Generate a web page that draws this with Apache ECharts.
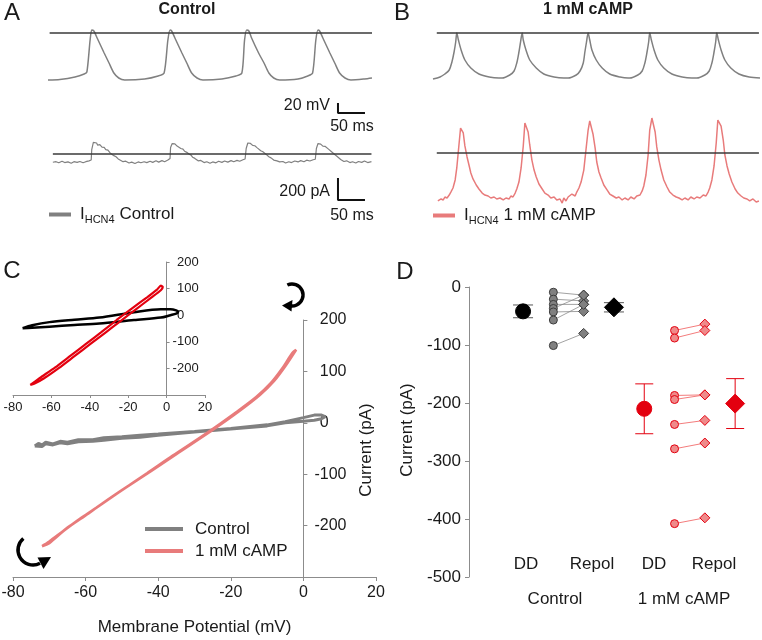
<!DOCTYPE html>
<html><head><meta charset="utf-8">
<script src="https://cdn.jsdelivr.net/npm/echarts@6/dist/echarts.min.js"></script>
<style>html,body{margin:0;padding:0;background:#fff}#c{width:762px;height:640px}</style>
</head><body><div id="c"></div>
<script>
// ---------- DATA ----------
// Panel A: control action potential [ms, mV]
const apCtrl = [[0,-94],[22,-93],[50,-88],[67,-82],[72,-78],[78,-14],[81,6],[85,4],[91,-10],[104,-40],[113,-60],[122,-80],[131,-90],[142,-94],[179,-92],[204,-86],[215,-80],[222,-14],[226,6],[229,4],[235,-10],[248,-40],[257,-60],[266,-80],[276,-90],[287,-94],[322,-92],[348,-86],[359,-80],[364,-14],[368,6],[372,4],[377,-10],[390,-40],[400,-60],[409,-80],[418,-90],[429,-94],[463,-92],[481,-86],[490,-80],[496,-14],[500,6],[503,4],[509,-10],[522,-40],[531,-60],[540,-80],[550,-90],[561,-94],[586,-92],[600,-90]];
// Panel A: control I_HCN4 [ms, pA]
const iCtrl = [[9,-75],[15,-70],[20,-80],[26,-66],[31,-78],[37,-72],[43,-84],[48,-70],[54,-76],[59,-68],[65,-80],[70,-70],[76,-62],[80,-55],[81,40],[84,105],[87,95],[90,100],[92,80],[96,85],[100,62],[104,60],[107,40],[111,35],[115,10],[118,5],[122,-15],[126,-25],[130,-45],[133,-50],[139,-70],[144,-65],[150,-82],[155,-74],[161,-86],[167,-72],[172,-80],[178,-70],[183,-78],[189,-66],[194,-76],[200,-62],[205,-74],[211,-60],[216,-70],[222,-55],[226,-40],[227,60],[230,95],[233,85],[235,92],[239,72],[242,70],[246,50],[250,45],[253,25],[257,15],[261,0],[265,-10],[268,-30],[272,-40],[278,-62],[283,-58],[289,-78],[294,-70],[300,-84],[305,-72],[311,-80],[316,-66],[322,-76],[327,-64],[333,-74],[339,-60],[344,-70],[350,-58],[355,-66],[361,-52],[365,-45],[367,50],[370,100],[373,88],[375,96],[379,78],[383,75],[387,58],[390,48],[394,30],[398,20],[401,2],[405,-8],[409,-25],[413,-35],[418,-55],[424,-62],[429,-72],[435,-68],[440,-82],[446,-70],[451,-78],[457,-64],[463,-72],[468,-60],[474,-70],[479,-56],[485,-64],[491,-52],[495,-48],[497,50],[500,95],[502,84],[505,90],[509,72],[513,70],[516,52],[520,42],[524,25],[527,15],[531,-5],[535,-20],[538,-38],[542,-50],[548,-68],[553,-62],[559,-78],[564,-70],[570,-82],[575,-68],[581,-76],[586,-64],[592,-78],[599,-70]];
// Panel B: action potential with 1 mM cAMP [ms, mV]
const apCamp = [[0,-92],[13,-88],[22,-82],[30,-74],[35,-58],[39,-38],[42,-18],[44,0],[47,-14],[52,-34],[59,-54],[70,-70],[85,-82],[104,-88],[122,-90],[128,-90],[142,-84],[150,-76],[155,-60],[159,-38],[162,-18],[165,0],[167,-14],[172,-34],[179,-54],[191,-70],[205,-82],[224,-88],[242,-90],[250,-90],[265,-84],[272,-76],[278,-60],[281,-38],[284,-18],[287,0],[290,-14],[294,-34],[302,-54],[313,-70],[327,-82],[346,-88],[361,-90],[364,-90],[379,-84],[387,-76],[392,-60],[396,-38],[399,-18],[401,0],[404,-14],[409,-34],[416,-54],[427,-70],[442,-82],[461,-88],[479,-90],[488,-90],[503,-84],[511,-76],[516,-60],[520,-38],[523,-18],[525,0],[528,-14],[533,-34],[540,-54],[551,-70],[566,-82],[585,-88],[605,-90]];
// Panel B: I_HCN4 with 1 mM cAMP [ms, pA]
const iCamp = [[9,-436],[15,-418],[19,-427],[22,-400],[26,-409],[30,-382],[33,-355],[37,-318],[41,-245],[44,-136],[48,73],[51,227],[54,236],[56,182],[59,64],[63,-36],[67,-118],[70,-182],[74,-236],[80,-291],[85,-327],[91,-364],[96,-382],[102,-391],[107,-409],[113,-400],[118,-418],[124,-409],[130,-427],[135,-409],[141,-418],[144,-391],[148,-400],[152,-364],[155,-327],[159,-264],[163,-136],[167,64],[170,273],[173,282],[176,191],[179,73],[183,-64],[187,-155],[191,-218],[196,-282],[202,-327],[207,-364],[213,-382],[218,-409],[224,-400],[229,-427],[235,-418],[239,-455],[242,-409],[246,-436],[250,-400],[253,-418],[257,-373],[263,-391],[266,-355],[270,-318],[274,-264],[279,-155],[283,27],[287,209],[290,291],[293,282],[296,173],[300,45],[303,-82],[307,-173],[311,-227],[316,-291],[322,-336],[327,-373],[333,-391],[339,-409],[344,-400],[350,-427],[355,-409],[361,-427],[366,-400],[372,-418],[377,-391],[383,-382],[387,-345],[390,-300],[394,-200],[398,-18],[401,209],[405,318],[408,300],[411,191],[414,55],[418,-64],[422,-155],[427,-245],[433,-309],[438,-355],[444,-382],[450,-400],[455,-409],[461,-427],[466,-409],[472,-427],[477,-400],[483,-418],[488,-400],[494,-409],[500,-382],[505,-391],[509,-355],[512,-318],[516,-245],[520,-118],[524,91],[527,300],[530,318],[533,245],[537,118],[540,-18],[544,-118],[548,-191],[553,-264],[559,-327],[564,-364],[570,-391],[575,-409],[581,-418],[586,-436],[592,-418],[598,-445],[603,-436]];
// Panel C inset: I-V loops [mV, pA]
const insetCtrl = [[-75,-49],[-70,-38],[-61,-26],[-48,-17],[-35,-9],[-17,11],[-3,22],[2,22],[5,18],[6,13],[5,6],[2,0],[-3,-9],[-17,-18],[-35,-31],[-48,-37],[-61,-43],[-70,-47],[-75,-49]];
const insetCamp = [[-71,-262],[-66,-236],[-58,-196],[-50,-152],[-42,-108],[-34,-64],[-26,-18],[-18,26],[-10,68],[-5,96],[-3,111],[-2,106],[-3,94],[-8,66],[-16,22],[-24,-22],[-32,-66],[-40,-110],[-48,-154],[-56,-198],[-64,-238],[-69,-258],[-71,-262]];
// Panel C main: I-V loops [mV, pA]
const ivCtrl = [[-74,-45],[-73,-40],[-72,-43],[-71,-38],[-69,-41],[-67,-36],[-65,-38],[-62,-33],[-58,-33],[-55,-29],[-50,-27],[-45,-24],[-40,-22],[-30,-17],[-20,-11],[-10,-4],[-5,2],[0,10],[3,15],[5,15],[6,12],[5,8],[3,5],[0,3],[-5,0],[-10,-6],[-20,-12],[-30,-18],[-40,-24],[-45,-28],[-50,-30],[-55,-34],[-58,-36],[-62,-37],[-65,-41],[-67,-39],[-69,-43],[-71,-41],[-72,-46],[-74,-45]];
const ivCamp = [[-72,-240],[-70,-231],[-67,-215],[-65,-204],[-60,-180],[-56,-160],[-50,-131],[-42,-94],[-35,-61],[-25,-14],[-18,21],[-12,54],[-8,82],[-5,110],[-2,142],[-3,136],[-6,104],[-9,77],[-13,50],[-19,18],[-26,-17],[-36,-64],[-43,-98],[-51,-136],[-57,-165],[-61,-184],[-66,-210],[-70,-234],[-72,-240]];
// Panel D: paired cells [pA]
const dGroups = ['Control', '1 mM cAMP'];
const dPhases = ['DD', 'Repol'];
const ctrlDD    = [-9, -21, -30, -37, -43, -57, -101];
const ctrlRepol = [-14, -24, -30, -14, -42, -30, -80];
const campDD    = [-75, -88, -187, -194, -237, -279, -408];
const campRepol = [-64, -75, -186, -186, -230, -269, -398];
const ctrlMean = [-42, -35], ctrlErr = [11, 8];
const campMean = [-210, -201], campErr = [43, 43];
// tick labels
const ivTicksX = [-80, -60, -40, -20, 0, 20];
const ivTicksY = [-300, -200, -100, 0, 100, 200];
const dTicksY = [-500, -400, -300, -200, -100, 0];

// ---------- CHART ----------
const FONT = '"Liberation Sans", Arial, sans-serif';
const TXT = '#1a1a1a', AX = '#8c8c8c';
const GRAY = '#808080', PINK = '#e87b7b', RED = '#e3000f';
const chart = echarts.init(document.getElementById('c'), null, {renderer: 'canvas'});

const cats = [];
dGroups.forEach((g) => { cats.push(g + ' DD mean', g + ' DD', g + ' Repol', g + ' Repol mean'); });

const grids = [
  {left: 48, top: 18, width: 324, height: 100},   // 0 A voltage
  {left: 48, top: 132, width: 324, height: 77},   // 1 A current
  {left: 433, top: 18, width: 327, height: 100},  // 2 B voltage
  {left: 433, top: 109, width: 327, height: 99},  // 3 B current
  {left: 13, top: 262, width: 192, height: 133},  // 4 C inset
  {left: 13, top: 320, width: 363, height: 257},  // 5 C main
  {left: 469, top: 287, width: 1, height: 290},   // 6 D axis
  {left: 507.9, top: 287, width: 242.4, height: 290} // 7 D data
].map(g => Object.assign({containLabel: false, outerBoundsMode: 'none'}, g));

function hiddenAxis(gi, min, max) { return {gridIndex: gi, type: 'value', min, max, show: false}; }
const negAlign = v => (v < 0 ? String(v) : '{h|-}' + v);
const xmin = ivTicksX[0], xmax = ivTicksX[ivTicksX.length - 1];
// place the current axis at 0 mV (measured from the grid's right edge)
const zeroOffset = gi => -grids[gi].width * (xmax - 0) / (xmax - xmin);

const xAxes = [
  hiddenAxis(0, 0, 600), hiddenAxis(1, 0, 600), hiddenAxis(2, 0, 605), hiddenAxis(3, 0, 605),
  {gridIndex: 4, type: 'value', min: xmin, max: xmax, interval: 20,
   axisLine: {onZero: false, lineStyle: {color: AX}}, axisTick: {length: 3, lineStyle: {color: AX}},
   axisLabel: {fontSize: 13, color: TXT, margin: 6, fontFamily: FONT}, splitLine: {show: false}},
  {gridIndex: 5, type: 'value', min: xmin, max: xmax, interval: 20,
   axisLine: {onZero: false, lineStyle: {color: AX}}, axisTick: {length: 4, lineStyle: {color: AX}},
   axisLabel: {fontSize: 16, color: TXT, margin: 8, fontFamily: FONT}, splitLine: {show: false},
   name: 'Membrane Potential (mV)', nameLocation: 'middle', nameGap: 42,
   nameTextStyle: {fontSize: 17, color: TXT, fontFamily: FONT}},
  hiddenAxis(6, 0, 1),
  {gridIndex: 7, type: 'category', data: cats, show: false}
];
const yAxes = [
  hiddenAxis(0, -170, 30), hiddenAxis(1, -500, 200), hiddenAxis(2, -170, 30), hiddenAxis(3, -500, 400),
  {gridIndex: 4, type: 'value', position: 'right', offset: zeroOffset(4), min: ivTicksY[0], max: ivTicksY[ivTicksY.length-1], interval: 100,
   axisLine: {show: true, onZero: false, lineStyle: {color: AX}}, axisTick: {show: true, length: 3, lineStyle: {color: AX}},
   axisLabel: {margin: 6, fontSize: 13, color: TXT, fontFamily: FONT,
     formatter: v => (v === ivTicksY[0] ? '' : negAlign(v)), rich: {h: {color: 'rgba(0,0,0,0)', fontSize: 13, fontFamily: FONT}}},
   splitLine: {show: false}},
  {gridIndex: 5, type: 'value', position: 'right', offset: zeroOffset(5), min: ivTicksY[0], max: ivTicksY[ivTicksY.length-1], interval: 100,
   axisLine: {show: true, onZero: false, lineStyle: {color: AX}}, axisTick: {show: true, length: 4, lineStyle: {color: AX}},
   axisLabel: {margin: 11, fontSize: 16, color: TXT, fontFamily: FONT,
     formatter: v => (v === ivTicksY[0] ? '' : negAlign(v)), rich: {h: {color: 'rgba(0,0,0,0)', fontSize: 16, fontFamily: FONT}}},
   splitLine: {show: false}},
  {gridIndex: 6, type: 'value', min: dTicksY[0], max: dTicksY[dTicksY.length-1], interval: 100,
   axisLine: {show: true, lineStyle: {color: AX}}, axisTick: {show: true, length: 4, lineStyle: {color: AX}},
   axisLabel: {fontSize: 17, color: TXT, margin: 8, fontFamily: FONT}, splitLine: {show: false}},
  hiddenAxis(7, dTicksY[0], dTicksY[dTicksY.length-1])
];

const zeroLine = (data) => ({symbol: 'none', silent: true, label: {show: false},
  lineStyle: {color: '#3a3a3a', width: 1.5, type: 'solid'}, emphasis: {disabled: true},
  data: [[{coord: [data[0][0], 0]}, {coord: [data[data.length-1][0], 0]}]]});

const scaleA_V = {t: 537, v: -140, dt: 50, dv: 20};
const scaleA_I = {t: 537, v: -218, dt: 50, dv: 200};
const scaleBar = (gi, s) => ({type: 'line', xAxisIndex: gi, yAxisIndex: gi, symbol: 'none', silent: true,
  lineStyle: {color: '#111', width: 2}, data: [[s.t, s.v], [s.t, s.v - s.dv], [s.t + s.dt, s.v - s.dv]]});

const trace = (name, gi, data, color, width, smooth) => ({type: 'line', name, xAxisIndex: gi, yAxisIndex: gi,
  data, symbol: 'none', showSymbol: false, smooth: smooth || false, color, lineStyle: {color, width}, z: 3});

const series = [
  Object.assign(trace('AP control', 0, apCtrl, GRAY, 1.5, 0.25), {markLine: zeroLine([[3,0],[600,0]])}),
  scaleBar(0, scaleA_V),
  Object.assign(trace('I_HCN4 Control', 1, iCtrl, GRAY, 1.2, false), {markLine: zeroLine(iCtrl)}),
  scaleBar(1, scaleA_I),
  Object.assign(trace('AP cAMP', 2, apCamp, GRAY, 1.5, 0.3), {markLine: zeroLine([[7,0],[603,0]])}),
  Object.assign(trace('I_HCN4 1 mM cAMP', 3, iCamp, PINK, 1.5, false), {markLine: zeroLine([[7,0],[603,0]])}),
  trace('inset control', 4, insetCtrl, '#000', 2.5, 0.3),
  trace('inset cAMP', 4, insetCamp, RED, 2.2, 0.2),
  trace('Control', 5, ivCtrl, GRAY, 3, false),
  trace('1 mM cAMP', 5, ivCamp, PINK, 2.6, 0.3)
];

// Panel D
function pairLines(dd, rep, g, color) {
  return dd.map((v, i) => ({type: 'line', xAxisIndex: 7, yAxisIndex: 7, symbol: 'none', silent: true,
    lineStyle: {color, width: 0.8}, z: 2, data: [[g + ' DD', v], [g + ' Repol', rep[i]]]}));
}
function points(vals, cat, symbol, size, fill, border) {
  return {type: 'scatter', xAxisIndex: 7, yAxisIndex: 7, symbol, symbolSize: size, silent: true, z: 4,
    itemStyle: {color: fill, borderColor: border, borderWidth: 1, opacity: 1}, data: vals.map(v => [cat, v])};
}
function errBars(g, means, errs, color, half) {
  return {type: 'custom', xAxisIndex: 7, yAxisIndex: 7, silent: true, z: 3,
    data: dPhases.map((p, i) => [g + ' ' + p + ' mean', means[i] - errs[i], means[i] + errs[i]]),
    encode: {x: 0, y: [1, 2]},
    renderItem: (params, api) => {
      const x = api.value(0);
      const lo = api.coord([x, api.value(1)]), hi = api.coord([x, api.value(2)]);
      const st = {stroke: color, lineWidth: 1};
      return {type: 'group', children: [
        {type: 'line', shape: {x1: lo[0], y1: lo[1], x2: hi[0], y2: hi[1]}, style: st},
        {type: 'line', shape: {x1: lo[0] - half, y1: lo[1], x2: lo[0] + half, y2: lo[1]}, style: st},
        {type: 'line', shape: {x1: hi[0] - half, y1: hi[1], x2: hi[0] + half, y2: hi[1]}, style: st}
      ]};
    }};
}
series.push(...pairLines(ctrlDD, ctrlRepol, dGroups[0], '#8a8a8a'));
series.push(...pairLines(campDD, campRepol, dGroups[1], '#f05a5a'));
series.push(points(ctrlDD, dGroups[0] + ' DD', 'circle', 8, GRAY, '#3c3c3c'));
series.push(points(ctrlRepol, dGroups[0] + ' Repol', 'diamond', 10, GRAY, '#3c3c3c'));
series.push(points(campDD, dGroups[1] + ' DD', 'circle', 8, '#ef8a8a', RED));
series.push(points(campRepol, dGroups[1] + ' Repol', 'diamond', 10, '#ef8a8a', RED));
series.push(errBars(dGroups[0], ctrlMean, ctrlErr, '#555', 10));
series.push(errBars(dGroups[1], campMean, campErr, RED, 9));
series.push(points([ctrlMean[0]], dGroups[0] + ' DD mean', 'circle', 15, '#000', '#000'));
series.push(points([ctrlMean[1]], dGroups[0] + ' Repol mean', 'diamond', 19, '#000', '#000'));
series.push(points([campMean[0]], dGroups[1] + ' DD mean', 'circle', 15, RED, RED));
series.push(points([campMean[1]], dGroups[1] + ' Repol mean', 'diamond', 19, RED, RED));

// legends
const subRich = {
  m: {fontSize: 17, color: TXT, fontFamily: FONT, lineHeight: 22},
  s: {fontSize: 11, color: TXT, fontFamily: FONT, lineHeight: 22, verticalAlign: 'bottom', padding: [8, 0, 0, 0]}
};
const legends = [
  {data: ['I_HCN4 Control'], left: 49, top: 206, padding: 0, icon: 'rect', itemWidth: 22, itemHeight: 4,
   formatter: () => '{m|I}{s|HCN4}{m| Control}', textStyle: {rich: subRich, padding: [0, 0, 0, 4]}},
  {data: ['I_HCN4 1 mM cAMP'], left: 433, top: 207, padding: 0, icon: 'rect', itemWidth: 22, itemHeight: 4,
   formatter: () => '{m|I}{s|HCN4}{m| 1 mM cAMP}', textStyle: {rich: subRich, padding: [0, 0, 0, 4]}},
  {data: ['Control', '1 mM cAMP'], left: 145, top: 518, orient: 'vertical', padding: 0, icon: 'rect',
   itemWidth: 38, itemHeight: 4, itemGap: 0,
   textStyle: {fontSize: 17, color: TXT, fontFamily: FONT, lineHeight: 22, padding: [0, 0, 0, 7]}}
];

// text & decorations
const T = (text, x, y, size, opts) => Object.assign({type: 'text', x, y, silent: true, style: {text, fill: TXT,
  font: (opts && opts.bold ? 'bold ' : '') + size + 'px ' + FONT,
  textAlign: (opts && opts.align) || 'center', textVerticalAlign: 'middle'}}, opts && opts.rot ? {rotation: opts.rot} : {});
const graphics = [
  T('A', 12, 13, 24), T('B', 402, 13, 24), T('C', 12, 271, 24), T('D', 405, 272, 24),
  T('Control', 187, 10, 16, {bold: true}), T('1 mM cAMP', 588, 10, 16, {bold: true}),
  T('20 mV', 330, 106, 16, {align: 'right'}), T('50 ms', 352, 127, 16),
  T('200 pA', 330, 192, 16, {align: 'right'}), T('50 ms', 352, 216, 16),
  T('Current (pA)', 366, 450, 17, {rot: Math.PI / 2}),
  T('Current (pA)', 407, 430, 17, {rot: Math.PI / 2}),
  T(dPhases[0], 526, 564, 17), T(dPhases[1], 592, 564, 17), T(dPhases[0], 654, 564, 17), T(dPhases[1], 714, 564, 17),
  T(dGroups[0], 555, 599, 17), T(dGroups[1], 684, 599, 17),
  // curved arrows
  {type: 'arc', silent: true, shape: {cx: 292, cy: 295, r: 11, startAngle: -115 * Math.PI / 180, endAngle: 95 * Math.PI / 180, clockwise: true},
   style: {stroke: '#000', lineWidth: 3.5, fill: null}},
  {type: 'polygon', silent: true, shape: {points: [[282, 305.5], [292.5, 300], [291.5, 311.5]]}, style: {fill: '#000'}},
  {type: 'arc', silent: true, shape: {cx: 33, cy: 550, r: 15, startAngle: 62 * Math.PI / 180, endAngle: 230 * Math.PI / 180, clockwise: true},
   style: {stroke: '#000', lineWidth: 3.5, fill: null}},
  {type: 'polygon', silent: true, shape: {points: [[51, 557], [37.5, 557.5], [43.5, 569]]}, style: {fill: '#000'}}
];

chart.setOption({
  animation: false,
  textStyle: {fontFamily: FONT},
  grid: grids, xAxis: xAxes, yAxis: yAxes, series, legend: legends, graphic: graphics,
  tooltip: {show: false}
});
</script></body></html>
